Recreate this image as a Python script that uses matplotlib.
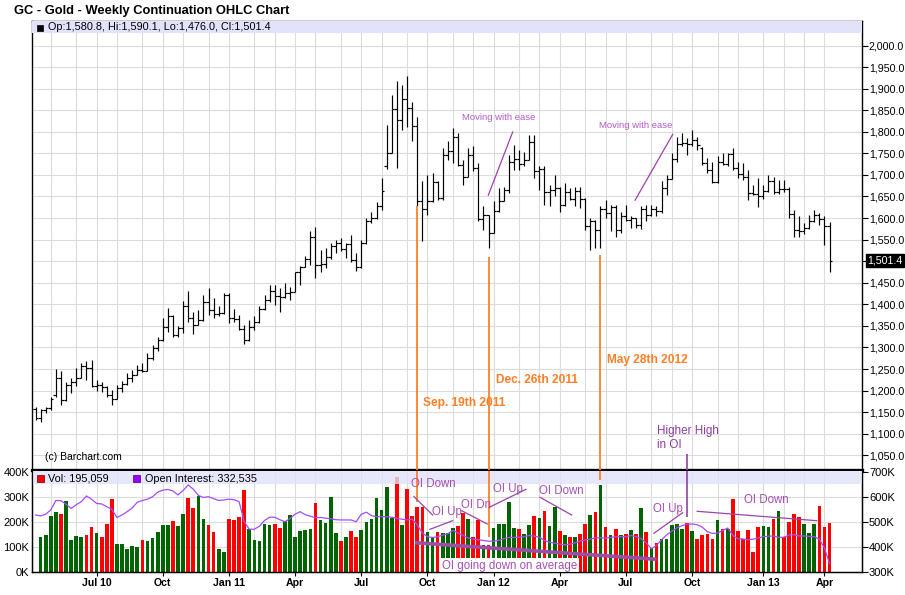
import numpy as np
import pandas as pd
import matplotlib
matplotlib.use("Agg")
import matplotlib.pyplot as plt
from matplotlib.patches import Rectangle
from matplotlib.transforms import blended_transform_factory

plt.rcParams['font.family'] = ['Liberation Sans', 'DejaVu Sans']

# weekly bars (Monday of each week), GC continuation
weeks = pd.date_range("2010-04-12", periods=157, freq="7D")

opens = [1158, 1137, 1155, 1160, 1190, 1230, 1177, 1212, 1219, 1230,
         1258, 1252, 1211, 1213, 1208, 1189, 1181, 1205, 1215, 1228,
         1236, 1248, 1246, 1276, 1298, 1318, 1347, 1372, 1328, 1345,
         1395, 1368, 1353, 1363, 1406, 1386, 1378, 1381, 1421, 1369,
         1366, 1343, 1318, 1348, 1360, 1388, 1411, 1430, 1420, 1418,
         1426, 1429, 1474, 1486, 1505, 1556, 1491, 1493, 1510, 1536,
         1542, 1529, 1540, 1502, 1486, 1542, 1594, 1601, 1628, 1720,
         1750, 1852, 1828, 1876, 1856, 1814, 1640, 1622, 1640, 1683,
         1646, 1747, 1755, 1788, 1724, 1696, 1747, 1715, 1598, 1606,
         1566, 1617, 1640, 1665, 1731, 1737, 1725, 1735, 1777, 1710,
         1713, 1660, 1664, 1669, 1630, 1660, 1645, 1663, 1643, 1581,
         1592, 1572, 1622, 1612, 1626, 1572, 1604, 1595, 1600, 1584,
         1620, 1606, 1622, 1616, 1670, 1691, 1738, 1772, 1775, 1772,
         1780, 1762, 1728, 1712, 1684, 1731, 1726, 1748, 1715, 1702,
         1696, 1657, 1656, 1650, 1662, 1687, 1660, 1668, 1667, 1609,
         1572, 1571, 1577, 1592, 1608, 1597, 1580.8]
highs = [1163, 1158, 1162, 1185, 1250, 1245, 1221, 1229, 1252, 1264,
         1268, 1270, 1225, 1221, 1210, 1202, 1213, 1222, 1241, 1248,
         1260, 1264, 1288, 1306, 1325, 1368, 1391, 1376, 1350, 1407,
         1430, 1383, 1387, 1422, 1438, 1414, 1395, 1427, 1426, 1390,
         1376, 1353, 1364, 1372, 1395, 1422, 1445, 1445, 1438, 1449,
         1440, 1476, 1488, 1511, 1569, 1580, 1526, 1530, 1542, 1550,
         1554, 1542, 1561, 1519, 1550, 1600, 1615, 1638, 1693, 1816,
         1886, 1917, 1909, 1930, 1870, 1835, 1685, 1700, 1704, 1685,
         1762, 1778, 1808, 1797, 1735, 1762, 1766, 1727, 1627, 1608,
         1639, 1670, 1673, 1747, 1770, 1758, 1754, 1793, 1792, 1720,
         1720, 1677, 1700, 1673, 1681, 1670, 1673, 1673, 1646, 1600,
         1596, 1627, 1642, 1631, 1631, 1615, 1631, 1604, 1600, 1627,
         1631, 1631, 1627, 1685, 1700, 1751, 1789, 1797, 1785, 1805,
         1789, 1764, 1739, 1731, 1743, 1751, 1751, 1762, 1731, 1727,
         1712, 1677, 1693, 1677, 1700, 1696, 1689, 1689, 1673, 1619,
         1605, 1588, 1607, 1619, 1611, 1604, 1590.1]
lows = [1132, 1126, 1148, 1155, 1186, 1167, 1176, 1194, 1210, 1228,
        1225, 1208, 1198, 1196, 1186, 1167, 1180, 1196, 1214, 1220,
        1236, 1242, 1245, 1272, 1291, 1315, 1335, 1325, 1325, 1333,
        1360, 1332, 1352, 1362, 1376, 1368, 1372, 1378, 1356, 1360,
        1341, 1309, 1316, 1340, 1356, 1386, 1406, 1398, 1383, 1415,
        1410, 1428, 1445, 1486, 1492, 1462, 1476, 1484, 1505, 1519,
        1523, 1507, 1499, 1478, 1484, 1540, 1588, 1597, 1618, 1714,
        1750, 1716, 1805, 1812, 1778, 1628, 1546, 1608, 1638, 1642,
        1642, 1735, 1727, 1720, 1677, 1696, 1710, 1592, 1573, 1530,
        1566, 1615, 1640, 1658, 1712, 1712, 1720, 1735, 1692, 1666,
        1631, 1627, 1650, 1615, 1628, 1642, 1627, 1623, 1573, 1526,
        1530, 1530, 1600, 1569, 1557, 1565, 1592, 1577, 1577, 1575,
        1592, 1604, 1604, 1612, 1654, 1690, 1731, 1766, 1747, 1766,
        1758, 1724, 1704, 1681, 1681, 1724, 1720, 1712, 1693, 1689,
        1642, 1654, 1626, 1645, 1660, 1655, 1655, 1660, 1600, 1555,
        1555, 1562, 1575, 1590, 1584, 1538, 1476.0]
closes = [1137, 1155, 1160, 1180, 1230, 1177, 1212, 1219, 1230, 1258,
          1252, 1211, 1213, 1208, 1189, 1181, 1205, 1215, 1228, 1236,
          1248, 1246, 1276, 1298, 1318, 1347, 1372, 1328, 1345, 1395,
          1368, 1353, 1363, 1406, 1386, 1378, 1381, 1421, 1369, 1366,
          1343, 1318, 1348, 1360, 1388, 1411, 1430, 1420, 1418, 1426,
          1429, 1474, 1486, 1505, 1556, 1491, 1493, 1510, 1536, 1542,
          1529, 1540, 1502, 1486, 1542, 1594, 1601, 1628, 1663, 1750,
          1852, 1828, 1876, 1856, 1814, 1640, 1622, 1640, 1683, 1646,
          1747, 1755, 1788, 1724, 1696, 1747, 1715, 1598, 1606, 1566,
          1617, 1640, 1665, 1731, 1737, 1725, 1735, 1777, 1710, 1713,
          1660, 1664, 1669, 1630, 1660, 1645, 1663, 1643, 1581, 1592,
          1572, 1622, 1612, 1626, 1572, 1604, 1595, 1600, 1584, 1620,
          1606, 1622, 1616, 1670, 1691, 1738, 1772, 1775, 1772, 1780,
          1770, 1728, 1712, 1684, 1731, 1726, 1748, 1715, 1702, 1696,
          1657, 1656, 1650, 1662, 1687, 1660, 1668, 1667, 1609, 1572,
          1571, 1577, 1592, 1608, 1597, 1580.8, 1501.4]

# volume and open interest, thousands of contracts
volume_k = [0, 140, 147, 223, 240, 231, 283, 127, 143, 137,
            147, 180, 156, 140, 191, 291, 111, 111, 91, 103,
            99, 127, 123, 136, 160, 187, 187, 203, 183, 231,
            296, 256, 304, 212, 187, 160, 91, 79, 211, 207,
            219, 327, 171, 127, 124, 191, 187, 191, 176, 203,
            227, 140, 164, 167, 171, 276, 207, 196, 297, 156,
            121, 140, 163, 140, 167, 200, 211, 296, 247, 340,
            216, 380, 187, 331, 223, 260, 260, 160, 140, 160,
            153, 156, 176, 183, 236, 211, 140, 207, 107, 107,
            175, 191, 191, 280, 173, 171, 151, 185, 223, 215,
            243, 183, 260, 163, 147, 137, 140, 151, 191, 227,
            237, 347, 180, 147, 169, 147, 151, 167, 151, 253,
            160, 93, 113, 131, 131, 187, 191, 171, 193, 164,
            131, 145, 149, 131, 207, 171, 170, 289, 164, 129,
            167, 80, 180, 183, 180, 211, 243, 139, 199, 231,
            217, 191, 156, 191, 264, 179, 195]
open_int_k = [527, 523, 530, 547, 585, 584, 570, 553, 568, 580,
              603, 590, 573, 571, 560, 549, 517, 527, 540, 555,
              578, 585, 590, 600, 618, 626, 629, 623, 607, 625,
              647, 630, 605, 597, 600, 592, 585, 587, 590, 588,
              580, 500, 470, 470, 482, 505, 518, 518, 508, 500,
              512, 530, 540, 528, 522, 516, 517, 514, 512, 508,
              507, 507, 507, 500, 530, 538, 524, 520, 520, 520,
              518, 513, 510, 507, 510, 487, 455, 440, 437, 440,
              446, 452, 465, 455, 445, 435, 430, 428, 425, 422,
              422, 425, 432, 437, 437, 438, 440, 445, 442, 438,
              425, 418, 414, 410, 408, 410, 415, 422, 427, 430,
              435, 436, 434, 437, 440, 440, 440, 445, 440, 432,
              415, 392, 405, 428, 447, 462, 475, 484, 490, 491,
              488, 478, 460, 453, 455, 465, 475, 445, 432, 431,
              428, 430, 435, 440, 442, 443, 437, 438, 446, 448,
              443, 443, 441, 440, 430, 395, 332.5]

GRID = '#dcdcdc'
GREEN = '#006400'
RED = '#ff0000'
ORANGE = '#ff7f27'
NOTE = '#a450b4'
BAND = '#e2e2fa'

x = np.arange(len(weeks))
o, h, l, c = map(np.array, (opens, highs, lows, closes))
up = np.r_[True, c[1:] >= c[:-1]]
vol_colors = np.where(up, GREEN, RED)

# month grid lines and quarter labels
month_start = [i for i in range(1, len(weeks)) if weeks[i].month != weeks[i - 1].month]
quarters = [i for i in month_start if weeks[i].month in (1, 4, 7, 10)]
qlabels = []
for k, i in enumerate(quarters):
    d = weeks[i]
    qlabels.append(d.strftime('%b %y') if (d.month == 1 or k == 0) else d.strftime('%b'))

def fx(px):
    return px / 905

def fy(py):
    return 1 - py / 595

fig = plt.figure(figsize=(9.05, 5.95), dpi=100)
ax = fig.add_axes([fx(32), fy(469.5), 830 / 905, 449 / 595])
axv = fig.add_axes([fx(32), fy(572), 830 / 905, 101 / 595])

xlim = (-0.69, 162.38)

# ---- price panel
ax.set_xlim(*xlim)
ax.set_ylim(1017, 2058)
for i in month_start:
    ax.axvline(i, color=GRID, lw=0.8, zorder=0)
for p in range(1050, 2051, 50):
    ax.axhline(p, color=GRID, lw=0.8, zorder=0)
ax.axhspan(2028, 2060, color=BAND, lw=0, zorder=3)

ax.vlines(x, l, h, color='black', lw=0.85, zorder=2)
ax.hlines(o, x - 0.5, x, color='black', lw=0.85, zorder=2)
ax.hlines(c, x, x + 0.5, color='black', lw=0.85, zorder=2)

ax.yaxis.tick_right()
levels = list(range(1050, 2001, 50))
ax.set_yticks(levels)
ax.set_yticklabels(['' if p == 1500 else f"{p:,.1f}" for p in levels])
ax.tick_params(axis='y', direction='out', length=4, width=0.8, pad=1, labelsize=7.7)
ax.set_xticks([])
for s in ax.spines.values():
    s.set_linewidth(1)
ax.spines['bottom'].set_linewidth(2.4)

tr = blended_transform_factory(ax.transAxes, ax.transData)
ax.text(1 + 5 / 830, 1501.4, '1,501.4', transform=tr, color='white', fontsize=7.7,
        va='center', ha='left', bbox=dict(boxstyle='square,pad=0.12', fc='black', ec='black'))
ax.text(13 / 830, 12.5 / 449, '(c) Barchart.com', transform=ax.transAxes, fontsize=7.5, va='center')

# annotations on price panel
ax.plot([88.96, 93.75], [1652.9, 1799.5], color='#a040b0', lw=0.9, zorder=4)
ax.text(91.06, 1833.6, 'Moving with ease', color='#b45ac8', fontsize=6.8, ha='center', va='center')
ax.plot([117.8, 125.2], [1641.3, 1794.2], color='#a040b0', lw=0.9, zorder=4)
ax.text(117.96, 1814.2, 'Moving with ease', color='#b45ac8', fontsize=6.8, ha='center', va='center')

for wk, top, vol_end in [(75, 1627, 280), (89, 1510, 140), (111, 1515, 367)]:
    ax.vlines(wk, 1017, top, color=ORANGE, lw=1.3, zorder=4, clip_on=False)
    axv.vlines(wk, vol_end, 402.8, color=ORANGE, lw=1.3, zorder=5)
ax.text(76.07, 1170.9, 'Sep. 19th 2011', color=ORANGE, fontsize=8.6, weight='bold', va='center')
ax.text(90.47, 1224.2, 'Dec. 26th 2011', color=ORANGE, fontsize=8.6, weight='bold', va='center')
ax.text(112.2, 1270.6, 'May 28th 2012', color=ORANGE, fontsize=8.6, weight='bold', va='center')

ax.vlines(128, 1017, 1054, color='#8e44a0', lw=1.2, zorder=4)
axv.vlines(128, 219, 402.8, color='#8e44a0', lw=1.2, zorder=5)
ax.text(122.1, 1106, 'Higher High', color='#8e3ca0', fontsize=8.4, va='center')
ax.text(122.1, 1073.6, 'in OI', color='#8e3ca0', fontsize=8.4, va='center')

# ---- volume panel
axv.set_xlim(*xlim)
axv.set_ylim(-1.2, 402.8)
for i in month_start:
    axv.axvline(i, color=GRID, lw=0.8, zorder=0)
for v in (100, 200, 300):
    axv.axhline(v, color=GRID, lw=0.8, zorder=0)
axv.bar(x, volume_k, width=0.72, color=vol_colors, lw=0, zorder=2)
axv.axhspan(350.8, 403, color=BAND, alpha=0.8, lw=0, zorder=3)

axv.set_yticks([0, 100, 200, 300, 400])
axv.set_yticklabels(['0K', '100K', '200K', '300K', '400K'])
axv.tick_params(axis='y', length=0, pad=2, labelsize=8)
axv.set_xticks(quarters)
axv.set_xticklabels(qlabels, fontweight='bold')
axv.tick_params(axis='x', length=3, direction='out', pad=1.5, labelsize=7.6)
for s in axv.spines.values():
    s.set_linewidth(1)
axv.spines['top'].set_visible(False)

axv2 = axv.twinx()
axv2.set_ylim(298.8, 702.8)
axv2.plot(x, open_int_k, color='#a44cff', lw=0.9, zorder=3)
axv2.set_yticks([300, 400, 500, 600, 700])
axv2.set_yticklabels(['300K', '400K', '500K', '600K', '700K'])
axv2.tick_params(axis='y', direction='out', length=4, width=0.8, pad=1, labelsize=8)
axv2.spines['top'].set_visible(False)

# OI notes
notes = [('OI Down', 73.7, 350.8), ('OI Up', 77.84, 240), ('OI Dn', 83.6, 266.8),
         ('OI Up', 89.94, 330.8), ('OI Down', 98.98, 324), ('OI Up', 121.4, 249.6),
         ('OI Down', 139.1, 286.8)]
for txt, nx, ny in notes:
    axv.text(nx, ny, txt, color=NOTE, fontsize=8.3, va='center', zorder=6)
note_lines = [((74.36, 78.03), (300, 226.8)), ((77.5, 81.96), (169.6, 204)),
              ((83.73, 88.76), (244, 190.8)), ((89.15, 96.37), (257.6, 329.6)),
              ((99.12, 105.34), (297.6, 226.8)), ((121.5, 127.15), (153.6, 236)),
              ((130.0, 153.5), (241.6, 204))]
for xs, ys in note_lines:
    axv.plot(xs, ys, color='#9b45a8', lw=0.9, zorder=6)
axv.plot([74.56, 122.04], [116, 49.6], color='#9b4fa8', lw=2.6, zorder=6, solid_capstyle='butt')
axv.text(79.8, 24, 'OI going down on average', color=NOTE, fontsize=8.3, va='center', zorder=6,
         bbox=dict(boxstyle='square,pad=0.15', fc='white', ec='none'))

# ---- header texts
fig.text(fx(14), fy(11), 'GC - Gold - Weekly Continuation OHLC Chart', fontsize=9.3,
         weight='bold', va='center')
fig.add_artist(Rectangle((fx(37), fy(30.5)), 6 / 905, 6 / 595, transform=fig.transFigure,
                         fc='black', ec='black', lw=0.5))
fig.text(fx(48), fy(27), 'Op:1,580.8, Hi:1,590.1, Lo:1,476.0, Cl:1,501.4', fontsize=7.8, va='center')
fig.add_artist(Rectangle((fx(37), fy(482)), 7 / 905, 7 / 595, transform=fig.transFigure,
                         fc=RED, ec='#600000', lw=0.5))
fig.text(fx(48), fy(478.5), 'Vol: 195,059', fontsize=7.8, va='center')
fig.add_artist(Rectangle((fx(133), fy(482)), 7 / 905, 7 / 595, transform=fig.transFigure,
                         fc='#9900ff', ec='#400070', lw=0.5))
fig.text(fx(145), fy(478.5), 'Open Interest: 332,535', fontsize=7.8, va='center')

fig.savefig('out.png', dpi=100)
